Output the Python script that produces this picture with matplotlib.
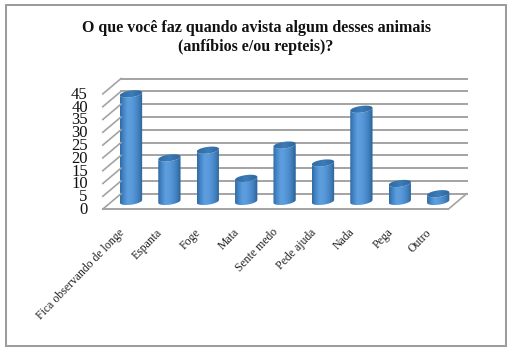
import numpy as np
import matplotlib
matplotlib.use('Agg')
import matplotlib.pyplot as plt
import matplotlib.transforms as mtransforms
from matplotlib.colors import LinearSegmentedColormap
from matplotlib.patches import PathPatch, Rectangle
from matplotlib.path import Path

categories = ['Fica observando de longe', 'Espanta', 'Foge', 'Mata', 'Sente medo',
              'Pede ajuda', 'Nada', 'Pega', 'Outro']
values = [42, 17, 20, 9, 22, 15, 36, 7, 3]
y_ticks = [0, 5, 10, 15, 20, 25, 30, 35, 40, 45]
title = 'O que você faz quando avista algum desses animais\n(anfíbios e/ou repteis)?'

W, H = 512, 352
plt.rcParams['font.family'] = ['Liberation Serif', 'DejaVu Serif']
fig = plt.figure(figsize=(W / 100, H / 100), dpi=100)

# frame around the whole picture
fig.add_artist(Rectangle((5.5 / W, 1 - 346 / H), 500.5 / W, 341 / H, transform=fig.transFigure,
                         fill=False, edgecolor='#9a9a9a', linewidth=1.4))

# axes = the plane the cylinders stand on (middle of the 3d depth)
# y goes down to -4 so the rounded bases are not cut by the axes box
ax = fig.add_axes([111.8 / W, 1 - 211.64 / H, 345.6 / W, 125.44 / H])
ax.axis('off')
ax.set_xlim(-0.5, 8.5)
ax.set_ylim(-4, 45)

back = mtransforms.offset_copy(ax.transData, fig=fig, x=9.3, y=7.7, units='dots')
front = mtransforms.offset_copy(ax.transData, fig=fig, x=-9, y=-7.7, units='dots')
tick_tr = mtransforms.offset_copy(ax.transData, fig=fig, x=-24, y=-8.5, units='dots')
label_tr = mtransforms.offset_copy(ax.transData, fig=fig, x=-17, y=-25, units='dots')
grid = '#a3a3a3'

body_cmap = LinearSegmentedColormap.from_list(
    'body', ['#2f6aa3', '#4889cb', '#5d9fde', '#5a9bdb', '#4f8fd0', '#3f7db9', '#2a5f95'])
top_cmap = LinearSegmentedColormap.from_list('top', ['#2f6aa3', '#3d7cb8', '#2c659d'])
grad = np.linspace(0, 1, 64).reshape(1, -1)

half_w = 0.29
ell_h = 1.3
tilt = 0.55
t_lower = np.linspace(np.pi, 2 * np.pi, 40)
t_full = np.linspace(0, 2 * np.pi, 80)

for i, v in enumerate(values):
    # body: lower arc of the base, then upper edge of the top ellipse
    x_low = i + half_w * np.cos(t_lower)
    y_low = ell_h * np.sin(t_lower) + tilt * np.cos(t_lower)
    verts = np.column_stack([np.r_[x_low, x_low[::-1]], np.r_[y_low, v + y_low[::-1]]])
    patch = PathPatch(Path(verts), transform=ax.transData, facecolor='none', edgecolor='none')
    ax.add_patch(patch)
    im = ax.imshow(grad, extent=[i - half_w, i + half_w, -3, v + 3], cmap=body_cmap,
                   aspect='auto', zorder=3, interpolation='bilinear')
    im.set_clip_path(patch)
    # top ellipse
    x_top = i + half_w * np.cos(t_full)
    y_top = v + ell_h * np.sin(t_full) + tilt * np.cos(t_full)
    top = PathPatch(Path(np.column_stack([x_top, y_top])), transform=ax.transData,
                    facecolor='none', edgecolor='none')
    ax.add_patch(top)
    im2 = ax.imshow(grad, extent=[i - half_w, i + half_w, v - 3, v + 3], cmap=top_cmap,
                    aspect='auto', zorder=4, interpolation='bilinear')
    im2.set_clip_path(top)

    ax.text(i + 0.1, 0, categories[i], transform=label_tr, rotation=46, rotation_mode='anchor',
            ha='right', va='top', fontsize=8.5, color='#222222', clip_on=False)

ax.set_xlim(-0.5, 8.5)
ax.set_ylim(-4, 45)

for t in y_ticks:
    ax.plot([-0.5, 8.5], [t, t], transform=back, color=grid, lw=1.4, clip_on=False, zorder=1)
    # little diagonal on the side wall
    a = front.transform((-0.5, t))
    b = back.transform((-0.5, t))
    fig.add_artist(plt.Line2D([a[0] / W, b[0] / W], [a[1] / H, b[1] / H], color=grid, lw=1.2,
                              transform=fig.transFigure))
    ax.text(-0.5, t, str(t), transform=tick_tr, fontsize=12, ha='right', va='center',
            color='#111111', clip_on=False)

# floor
ax.plot([-0.5, 8.5], [0, 0], transform=front, color=grid, lw=1.4, clip_on=False, zorder=1)
a = front.transform((8.5, 0))
b = back.transform((8.5, 0))
fig.add_artist(plt.Line2D([a[0] / W, b[0] / W], [a[1] / H, b[1] / H], color=grid, lw=1.2,
                          transform=fig.transFigure))

ax.set_xlim(-0.5, 8.5)
ax.set_ylim(-4, 45)

fig.text(256 / W, 1 - 37.5 / H, title, ha='center', va='center', fontsize=11.5, fontweight='bold',
         color='#111111', linespacing=1.3)

fig.savefig('out.png', dpi=100)
